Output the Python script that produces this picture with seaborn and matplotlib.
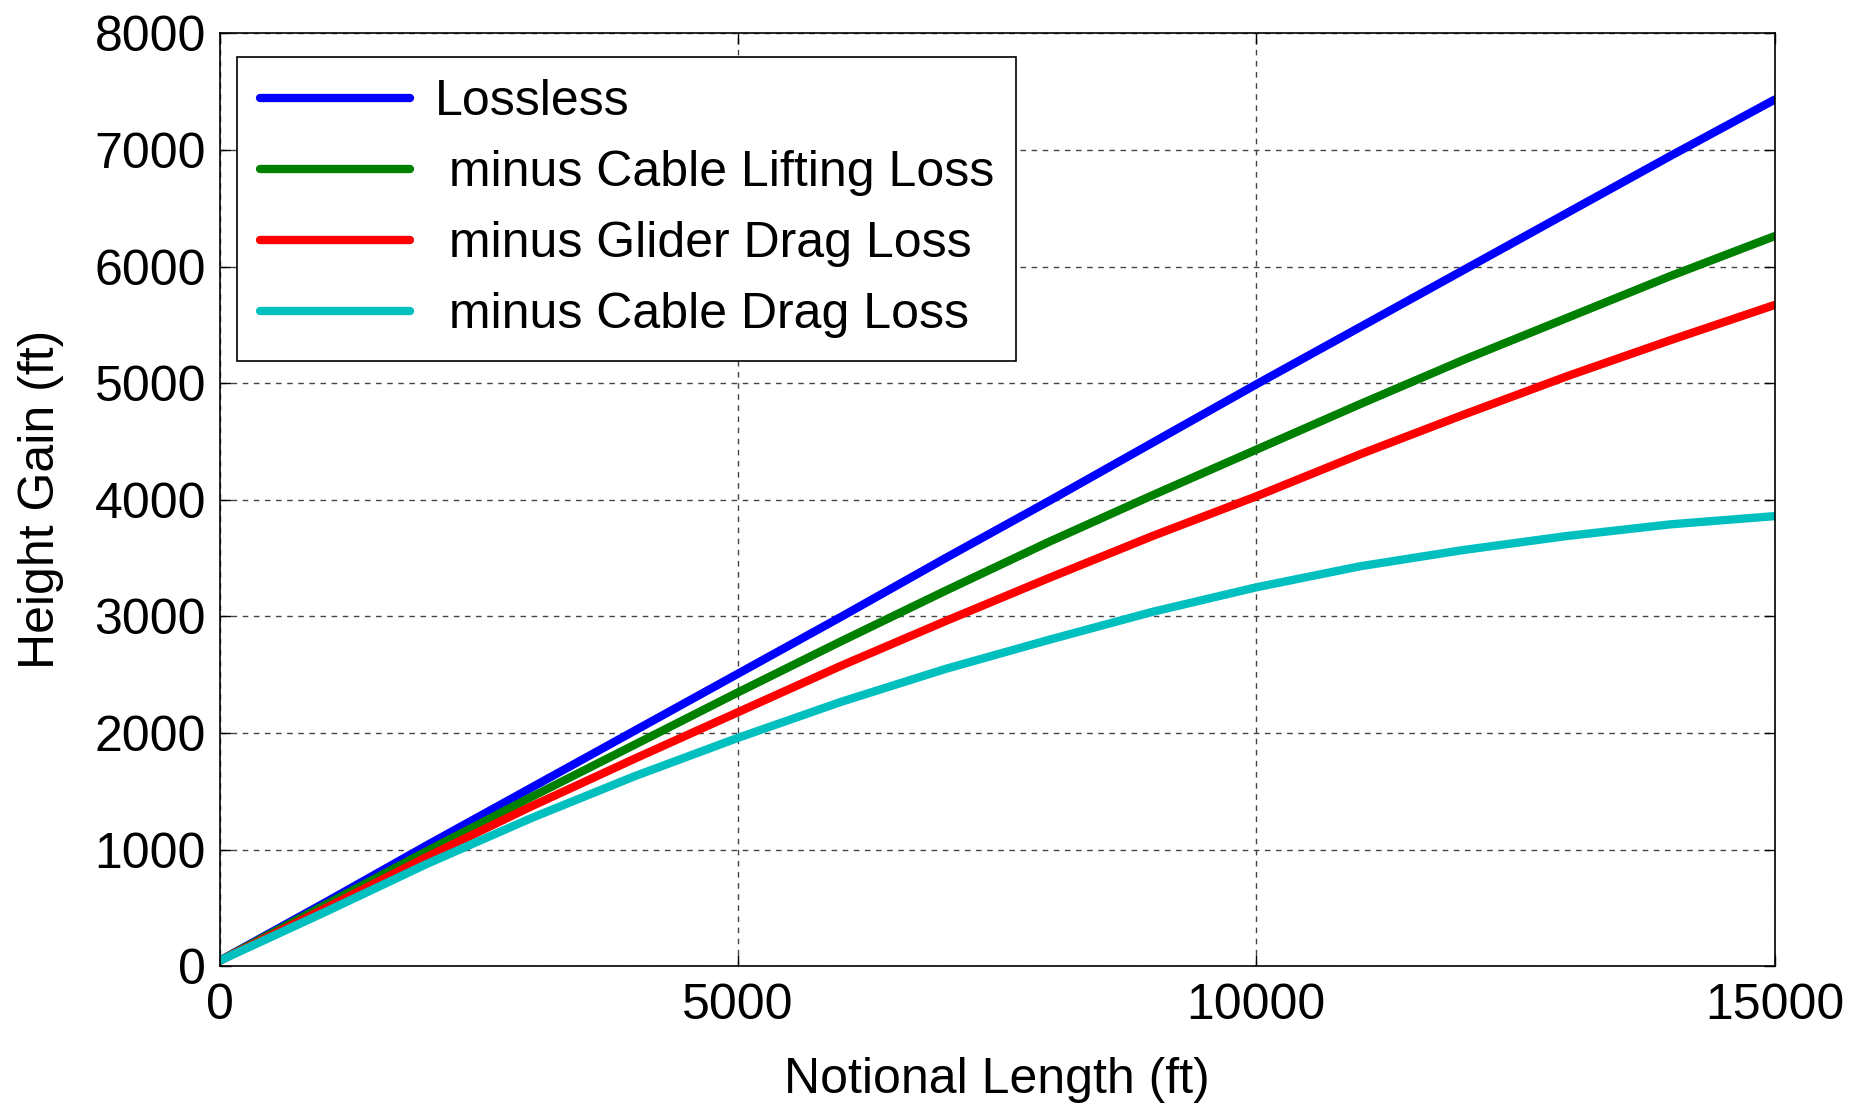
import numpy as np
import pandas as pd
import matplotlib
matplotlib.use("Agg")
import matplotlib.pyplot as plt
import seaborn as sns

# ---- data ----
length_ft = [0, 1000, 2000, 3000, 4000, 5000, 6000, 7000, 8000,
             9000, 10000, 11000, 12000, 13000, 14000, 15000]
lossless = [50, 540, 1040, 1530, 2020, 2510, 3000, 3500, 3990,
            4490, 4990, 5480, 5970, 6460, 6950, 7430]
minus_lift = [50, 520, 990, 1450, 1900, 2350, 2790, 3220, 3640,
              4040, 4430, 4820, 5200, 5560, 5920, 6260]
minus_glider = [50, 490, 940, 1370, 1780, 2180, 2580, 2960, 3330,
                3690, 4030, 4390, 4730, 5060, 5370, 5670]
minus_cable_drag = [50, 460, 880, 1270, 1630, 1960, 2270, 2550, 2800,
                    3040, 3250, 3430, 3570, 3690, 3790, 3860]

series_names = ["Lossless", " minus Cable Lifting Loss",
                " minus Glider Drag Loss", " minus Cable Drag Loss"]
series_colors = ["#0000FF", "#008000", "#FF0000", "#00BFBF"]

x_ticks = [0, 5000, 10000, 15000]
y_ticks = [0, 1000, 2000, 3000, 4000, 5000, 6000, 7000, 8000]

frames = []
for name, vals in zip(series_names,
                      [lossless, minus_lift, minus_glider, minus_cable_drag]):
    frames.append(pd.DataFrame({"x": length_ft, "y": vals, "series": name}))
df = pd.concat(frames, ignore_index=True)

sns.set_theme(style="white")
plt.rcParams["font.family"] = ["Liberation Sans", "DejaVu Sans"]
plt.rcParams["text.color"] = "black"
plt.rcParams["axes.labelcolor"] = "black"
plt.rcParams["xtick.color"] = "black"
plt.rcParams["ytick.color"] = "black"

FS = 36

fig = plt.figure(figsize=(18.64, 11.07), dpi=100)
ax = fig.add_axes([0.118, 0.127, 0.834, 0.843])

sns.lineplot(data=df, x="x", y="y", hue="series", hue_order=series_names,
             palette=series_colors, linewidth=6, ax=ax, legend=True,
             estimator=None, sort=False)

ax.set_xlim(0, 15000)
ax.set_ylim(0, 8000)
ax.set_xticks(x_ticks)
ax.set_yticks(y_ticks)
ax.set_xticklabels([str(v) for v in x_ticks])
ax.set_yticklabels([str(v) for v in y_ticks])

ax.grid(True, color="#444444", linestyle=(0, (4, 4)), linewidth=1.0)
for sp in ax.spines.values():
    sp.set_visible(True)
    sp.set_color("black")
    sp.set_linewidth(1.2)

ax.tick_params(axis="both", which="both", direction="in", length=8,
               width=1, colors="black", labelsize=FS,
               top=True, right=True, bottom=True, left=True)
ax.tick_params(axis="x", pad=12)
ax.tick_params(axis="y", pad=10)

ax.set_xlabel("Notional Length (ft)", fontsize=FS, color="black", labelpad=20)
ax.set_ylabel("Height Gain (ft)", fontsize=FS, color="black", labelpad=22)

leg = ax.legend(loc="upper left", bbox_to_anchor=(0.011, 0.975),
                fontsize=FS, handlelength=3.0, handletextpad=0.5,
                labelspacing=0.5, borderpad=0.45, fancybox=False,
                framealpha=1.0, edgecolor="black", borderaxespad=0)
leg.get_frame().set_linewidth(1.2)
for line in leg.get_lines():
    line.set_linewidth(6)
for t in leg.get_texts():
    t.set_color("black")

fig.savefig("out.png", dpi=100, facecolor="white")
